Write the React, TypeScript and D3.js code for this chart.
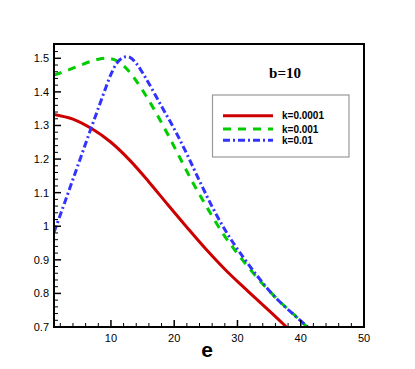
import React from "react";
import * as d3 from "d3";

const eRed = [1, 4, 7, 10, 13, 16, 19, 22, 25, 28, 31, 34, 37.75];
const vRed = [1.333, 1.319, 1.29, 1.25, 1.196, 1.132, 1.064, 0.997, 0.932, 0.872, 0.818, 0.766, 0.70];

const eGreen = [1, 3, 5, 7, 9, 10, 11, 12, 13, 14, 15, 17, 19, 21, 23, 25, 28, 31, 34, 37, 39, 41];
const vGreen = [1.45, 1.463, 1.478, 1.492, 1.5, 1.499, 1.492, 1.478, 1.458, 1.433, 1.405, 1.342, 1.273, 1.2, 1.128, 1.062, 0.97, 0.895, 0.828, 0.77, 0.736, 0.70];

const eBlue = [1, 2, 3, 4, 5, 6, 7, 8, 9, 10, 11, 12, 13, 14, 15, 16, 18, 20, 22, 24, 26, 28, 30, 33, 36, 39, 41.1];
const vBlue = [0.982, 1.034, 1.087, 1.14, 1.193, 1.246, 1.299, 1.351, 1.403, 1.452, 1.487, 1.503, 1.503, 1.485, 1.457, 1.425, 1.357, 1.29, 1.215, 1.135, 1.058, 0.99, 0.932, 0.855, 0.788, 0.735, 0.70];

const seriesNames = ["k=0.0001", "k=0.001", "k=0.01"];
const xTicks = [10, 20, 30, 40, 50];
const yTicks = [0.7, 0.8, 0.9, 1, 1.1, 1.2, 1.3, 1.4, 1.5];
const yTickLabels = ["0.7", "0.8", "0.9", "1", "1.1", "1.2", "1.3", "1.4", "1.5"];

const colors = ["#cc0000", "#00cc00", "#3333ff"];
const dashes = ["none", "8,7", "7,3,2,3"];

export default function App() {
  const L = 54, R = 364, T = 44, B = 327;
  const x = d3.scaleLinear().domain([1, 50]).range([L, R]);
  const y = d3.scaleLinear().domain([0.7, 1.5]).range([B, 58.3]);
  const line = d3.line<[number, number]>().x(d => x(d[0])).y(d => y(d[1])).curve(d3.curveCatmullRom.alpha(0.5));
  const data: [number, number][][] = [
    eRed.map((e, i) => [e, vRed[i]]),
    eGreen.map((e, i) => [e, vGreen[i]]),
    eBlue.map((e, i) => [e, vBlue[i]]),
  ];
  const xMinor = d3.range(2, 50, 2).filter(v => v % 10 !== 0);
  const yMinor = d3.range(0, 42).map(i => 0.7 + i * 0.02).filter(v => Math.abs(Math.round(v * 10) - v * 10) > 0.01 && y(v) > T);
  const font = "Liberation Sans, Arial, sans-serif";
  const legRows = [115.7, 129, 140.3];
  return (
    <svg width={415} height={369} style={{ position: "absolute", left: 0, top: 0 }}>
      <rect x={0} y={0} width={415} height={369} fill="#fff" />
      <defs>
        <clipPath id="plot">
          <rect x={L} y={T} width={R - L} height={B - T} />
        </clipPath>
      </defs>
      <g clipPath="url(#plot)">
        {data.map((d, i) => (
          <path key={i} d={line(d) || ""} fill="none" stroke={colors[i]} strokeWidth={3} strokeDasharray={dashes[i]} />
        ))}
      </g>
      {xTicks.map(t => (
        <line key={"xt" + t} x1={x(t)} x2={x(t)} y1={B} y2={B - 7} stroke="#000" strokeWidth={1.5} />
      ))}
      {xMinor.map(t => (
        <line key={"xm" + t} x1={x(t)} x2={x(t)} y1={B} y2={B - 4} stroke="#000" strokeWidth={1} />
      ))}
      {yTicks.map(t => (
        <line key={"yt" + t} x1={L} x2={L + 7} y1={y(t)} y2={y(t)} stroke="#000" strokeWidth={1.5} />
      ))}
      {yMinor.map((t, i) => (
        <line key={"ym" + i} x1={L} x2={L + 4} y1={y(t)} y2={y(t)} stroke="#000" strokeWidth={1} />
      ))}
      <rect x={L} y={T} width={R - L} height={B - T} fill="none" stroke="#000" strokeWidth={2} />
      {xTicks.map(t => (
        <text key={"xl" + t} x={x(t)} y={342} textAnchor="middle" fontFamily={font} fontSize={11}>{t}</text>
      ))}
      {yTicks.map((t, i) => (
        <text key={"yl" + t} x={49} y={y(t) + 4} textAnchor="end" fontFamily={font} fontSize={11}>{yTickLabels[i]}</text>
      ))}
      <text x={207} y={357} textAnchor="middle" fontFamily={font} fontSize={21} fontWeight="bold">e</text>
      <text x={285} y={78} textAnchor="middle" fontFamily="Liberation Serif, Times New Roman, serif" fontSize={15} fontWeight="bold">b=10</text>
      <rect x={212.5} y={95} width={136.5} height={62} fill="#fff" stroke="#999" strokeWidth={1.2} />
      {seriesNames.map((n, i) => (
        <g key={n}>
          <line x1={223} x2={273} y1={legRows[i]} y2={legRows[i]} stroke={colors[i]} strokeWidth={3} strokeDasharray={dashes[i]} />
          <text x={282} y={legRows[i] + 3.5} fontFamily={font} fontSize={10} fontWeight="bold">{n}</text>
        </g>
      ))}
    </svg>
  );
}
